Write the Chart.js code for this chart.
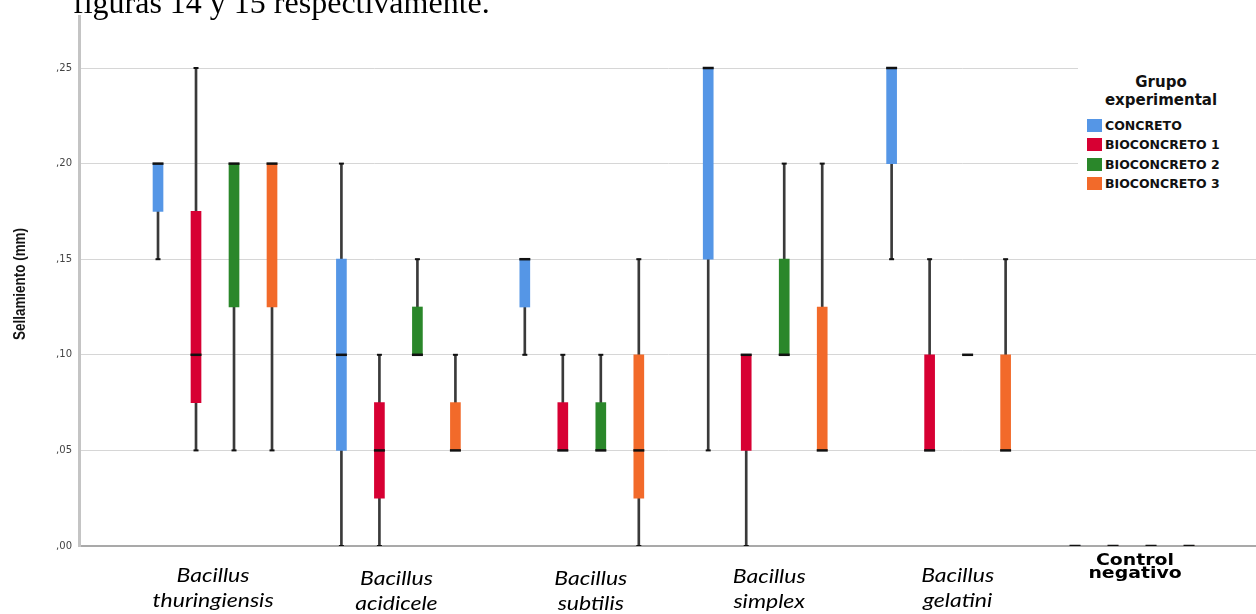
<!DOCTYPE html>
<html>
<head>
<meta charset="utf-8">
<script src="https://cdn.jsdelivr.net/npm/chart.js@4/dist/chart.umd.min.js"></script>
<style>
  html, body { margin: 0; padding: 0; background: #fff; overflow: hidden; }
  #wrap { position: relative; width: 1256px; height: 614px; overflow: hidden; background: #fff; }
  #c { position: absolute; left: 0; top: 0; }
  #caption { position: absolute; left: 73px; top: -14px; font-family: "Liberation Serif", "Times New Roman", serif; font-size: 32px; line-height: 32px; color: #000; white-space: nowrap; }
  #ytitle { position: absolute; left: 20px; top: 284px; width: 0; height: 0; }
  #ytitle span { position: absolute; left: 0; top: 0; transform: translate(-50%, -50%) rotate(-90deg) scaleX(0.84); font-family: "Liberation Sans", Arial, sans-serif; font-weight: bold; font-size: 16px; line-height: 16px; white-space: nowrap; color: #111; }
  #legend { position: absolute; left: 1078px; top: 60px; width: 178px; height: 140px; background: #fff; font-family: "DejaVu Sans", sans-serif; font-weight: bold; color: #111; }
  #legend .ttl { position: absolute; left: 0; top: 13px; width: 166px; text-align: center; font-size: 15px; line-height: 18px; }
  #legend .item { position: absolute; left: 9px; height: 13px; display: flex; align-items: center; font-size: 12.5px; line-height: 13px; white-space: nowrap; }
  #legend .sw { width: 15px; height: 13px; margin-right: 3px; }
</style>
</head>
<body>
<div id="wrap">
  <canvas id="c" width="1256" height="614"></canvas>
  <div id="caption">figuras 14 y 15 respectivamente.</div>
  <div id="ytitle"><span>Sellamiento (mm)</span></div>
  <div id="legend"></div>
</div>
<script>
// ---------- data ----------
const categories = [
  ['Bacillus', 'thuringiensis'],
  ['Bacillus', 'acidicele'],
  ['Bacillus', 'subtilis'],
  ['Bacillus', 'simplex'],
  ['Bacillus', 'gelatini'],
  ['Control', 'negativo']
];
const legendTitle = ['Grupo', 'experimental'];
const yAxisTitle = 'Sellamiento (mm)';
const seriesNames = ['CONCRETO', 'BIOCONCRETO 1', 'BIOCONCRETO 2', 'BIOCONCRETO 3'];
const seriesColors = ['#5596E6', '#D70033', '#2A872A', '#F26A2A'];
const yTicks = [0, 0.05, 0.10, 0.15, 0.20, 0.25];

const concretoMin    = [0.15, 0.00, 0.10, 0.05, 0.15, 0];
const concretoQ1     = [0.175, 0.05, 0.125, 0.15, 0.20, 0];
const concretoMedian = [0.20, 0.10, 0.15, 0.25, 0.25, 0];
const concretoQ3     = [0.20, 0.15, 0.15, 0.25, 0.25, 0];
const concretoMax    = [0.20, 0.20, 0.15, 0.25, 0.25, 0];

const bio1Min    = [0.05, 0.00, 0.05, 0.00, 0.05, 0];
const bio1Q1     = [0.075, 0.025, 0.05, 0.05, 0.05, 0];
const bio1Median = [0.10, 0.05, 0.05, 0.10, 0.05, 0];
const bio1Q3     = [0.175, 0.075, 0.075, 0.10, 0.10, 0];
const bio1Max    = [0.25, 0.10, 0.10, 0.10, 0.15, 0];

const bio2Min    = [0.05, 0.10, 0.05, 0.10, 0.10, 0];
const bio2Q1     = [0.125, 0.10, 0.05, 0.10, 0.10, 0];
const bio2Median = [0.20, 0.10, 0.05, 0.10, 0.10, 0];
const bio2Q3     = [0.20, 0.125, 0.075, 0.15, 0.10, 0];
const bio2Max    = [0.20, 0.15, 0.10, 0.20, 0.10, 0];

const bio3Min    = [0.05, 0.05, 0.00, 0.05, 0.05, 0];
const bio3Q1     = [0.125, 0.05, 0.025, 0.05, 0.05, 0];
const bio3Median = [0.20, 0.05, 0.05, 0.05, 0.05, 0];
const bio3Q3     = [0.20, 0.075, 0.10, 0.125, 0.10, 0];
const bio3Max    = [0.20, 0.10, 0.15, 0.20, 0.15, 0];

const seriesStats = [
  { min: concretoMin, q1: concretoQ1, med: concretoMedian, q3: concretoQ3, max: concretoMax },
  { min: bio1Min, q1: bio1Q1, med: bio1Median, q3: bio1Q3, max: bio1Max },
  { min: bio2Min, q1: bio2Q1, med: bio2Median, q3: bio2Q3, max: bio2Max },
  { min: bio3Min, q1: bio3Q1, med: bio3Median, q3: bio3Q3, max: bio3Max }
];

// ---------- layout helpers ----------
const BOX_STEP = 0.2072;
const posOf = (cat, s) => cat + (s - (seriesNames.length - 1) / 2) * BOX_STEP;
// small pixel nudges of the category captions (as placed in the original figure)
const LABEL_DX = [-2, -2, 9, 4, 9, 3];
const LABEL_DY = [0, 3, 3, 1, 0, 0];

// ---------- datasets ----------
const datasets = [];
seriesStats.forEach((st, s) => {
  datasets.push({
    type: 'bar', label: seriesNames[s] + ' whisker', order: 3, grouped: false,
    data: categories.map((c, i) => ({ x: posOf(i, s), y: [st.min[i], st.max[i]] })),
    backgroundColor: '#3a3a3a', borderWidth: 0, barThickness: 2
  });
});
seriesStats.forEach((st, s) => {
  datasets.push({
    type: 'bar', label: seriesNames[s], order: 2, grouped: false,
    data: categories.map((c, i) => ({ x: posOf(i, s), y: [st.q1[i], st.q3[i]] })),
    backgroundColor: seriesColors[s], borderWidth: 0, barThickness: 10
  });
});
const capPts = [];
seriesStats.forEach((st, s) => {
  categories.forEach((c, i) => {
    if (st.max[i] > st.q3[i]) capPts.push({ x: posOf(i, s), y: st.max[i] });
    if (st.min[i] < st.q1[i]) capPts.push({ x: posOf(i, s), y: st.min[i] });
  });
});
datasets.push({
  type: 'scatter', label: 'caps', order: 1, data: capPts,
  pointStyle: 'line', pointRadius: 2.5, pointHoverRadius: 2.5, borderColor: '#111', pointBorderWidth: 2, borderWidth: 2
});
const medPts = [];
seriesStats.forEach((st, s) => {
  categories.forEach((c, i) => medPts.push({ x: posOf(i, s), y: st.med[i] }));
});
datasets.push({
  type: 'scatter', label: 'median', order: 0, data: medPts,
  pointStyle: 'line', pointRadius: 5.5, pointHoverRadius: 5.5, borderColor: '#111', pointBorderWidth: 2.5, borderWidth: 2.5
});

// ---------- category labels plugin ----------
const catLabels = {
  id: 'catLabels',
  afterDraw(chart) {
    const { ctx, chartArea } = chart;
    const xs = chart.scales.x;
    ctx.save();
    ctx.fillStyle = '#000';
    ctx.textAlign = 'center';
    ctx.textBaseline = 'alphabetic';
    categories.forEach((lines, i) => {
      const px = xs.getPixelForValue(i) + LABEL_DX[i];
      const ctrl = i === categories.length - 1;
      lines.forEach((t, j) => {
        ctx.save();
        if (ctrl) {
          ctx.font = 'bold 16px "DejaVu Sans", sans-serif';
          ctx.translate(px, chartArea.bottom + 19 + LABEL_DY[i] + j * 13);
          ctx.scale(1.18, 1);
        } else {
          ctx.font = 'italic 20px Lato, "Open Sans", sans-serif';
          ctx.translate(px, chartArea.bottom + 36 + LABEL_DY[i] + j * 25);
          ctx.scale(1.15, 1);
        }
        ctx.fillText(t, 0, 0);
        ctx.restore();
      });
    });
    ctx.restore();
  }
};

// ---------- chart ----------
new Chart(document.getElementById('c'), {
  type: 'bar',
  data: { datasets },
  plugins: [catLabels],
  options: {
    responsive: false,
    devicePixelRatio: 1,
    animation: false,
    layout: { autoPadding: false, padding: { top: 16, right: 0, left: 0, bottom: 0 } },
    plugins: { legend: { display: false }, tooltip: { enabled: false } },
    scales: {
      x: {
        type: 'linear', min: -0.7416, max: 5.676, offset: false,
        grid: { display: false, drawTicks: false },
        ticks: { display: false },
        border: { display: true, color: '#a9a9a9', width: 2 },
        afterFit: s => { s.height = 68; s.paddingLeft = 0; s.paddingRight = 0; }
      },
      y: {
        min: 0, max: 0.2772,
        afterBuildTicks: s => { s.ticks = yTicks.map(v => ({ value: v })); },
        ticks: {
          callback: v => ',' + v.toFixed(2).split('.')[1],
          font: { family: 'DejaVu Sans', size: 10 },
          color: '#444', padding: 7
        },
        grid: { color: '#d6d6d6', lineWidth: 1, drawTicks: false },
        border: { color: '#c4c4c4', width: 3 },
        afterFit: s => { s.width = 79; }
      }
    }
  }
});

// ---------- legend (HTML) ----------
const lg = document.getElementById('legend');
const ttl = document.createElement('div');
ttl.className = 'ttl';
ttl.innerHTML = legendTitle.join('<br>');
lg.appendChild(ttl);
seriesNames.forEach((n, k) => {
  const it = document.createElement('div');
  it.className = 'item';
  it.style.top = (59 + k * 19.3) + 'px';
  const sw = document.createElement('span');
  sw.className = 'sw';
  sw.style.background = seriesColors[k];
  const tx = document.createElement('span');
  tx.textContent = n;
  it.appendChild(sw); it.appendChild(tx);
  lg.appendChild(it);
});
document.querySelector('#ytitle span').textContent = yAxisTitle;
</script>
</body>
</html>
